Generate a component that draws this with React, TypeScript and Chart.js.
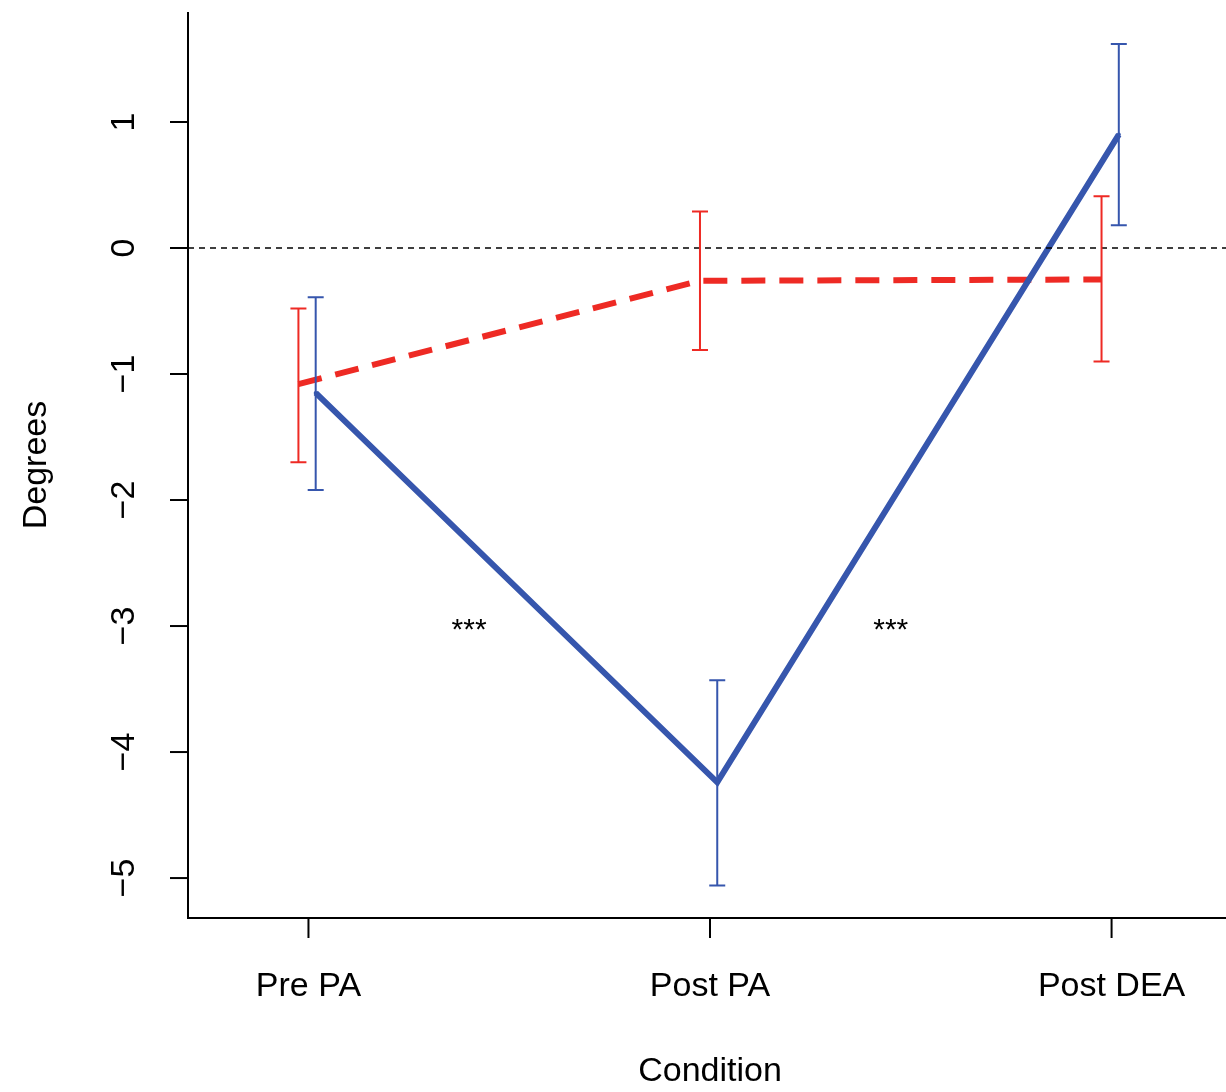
import { useEffect, useRef } from "react";
import Chart from "chart.js/auto";

const CATEGORIES = ["Pre PA", "Post PA", "Post DEA"];
const BLUE_MEAN = [-1.15, -4.24, 0.9];
const BLUE_HI = [-0.39, -3.43, 1.62];
const BLUE_LO = [-1.92, -5.06, 0.18];
const RED_MEAN = [-1.08, -0.26, -0.25];
const RED_HI = [-0.48, 0.29, 0.41];
const RED_LO = [-1.7, -0.81, -0.9];
const Y_TICKS = [1, 0, -1, -2, -3, -4, -5];
const STARS = [{ x: 0.4, y: -3.04 }, { x: 1.45, y: -3.04 }];

const BLUE = "#3656ad";
const RED = "#ee2a24";
const FONT = "'Liberation Sans', Arial, sans-serif";

export default function App() {
  const ref = useRef<HTMLCanvasElement>(null);

  useEffect(() => {
    document.body.style.margin = "0";
    document.body.style.overflow = "hidden";
    if (!ref.current) return;
    const blueOff = 0.018, redOff = -0.025;
    const overlay = {
      id: "overlay",
      afterDatasetsDraw(chart: any) {
        const { ctx, chartArea: a, scales } = chart;
        const xs = scales.x, ys = scales.y;
        ctx.save();
        // zero line
        ctx.strokeStyle = "#000"; ctx.lineWidth = 1.5; ctx.setLineDash([6, 5]);
        ctx.beginPath(); ctx.moveTo(a.left, ys.getPixelForValue(0)); ctx.lineTo(1226, ys.getPixelForValue(0)); ctx.stroke();
        ctx.setLineDash([]);
        // error bars
        const bars = (hi: number[], lo: number[], off: number, color: string) => {
          ctx.strokeStyle = color; ctx.lineWidth = 2;
          hi.forEach((h, i) => {
            const x = xs.getPixelForValue(i + off);
            const y1 = ys.getPixelForValue(h), y2 = ys.getPixelForValue(lo[i]);
            ctx.beginPath();
            ctx.moveTo(x, y1); ctx.lineTo(x, y2);
            ctx.moveTo(x - 8, y1); ctx.lineTo(x + 8, y1);
            ctx.moveTo(x - 8, y2); ctx.lineTo(x + 8, y2);
            ctx.stroke();
          });
        };
        bars(RED_HI, RED_LO, redOff, RED);
        bars(BLUE_HI, BLUE_LO, blueOff, BLUE);
        // axes
        ctx.strokeStyle = "#000"; ctx.lineWidth = 2;
        ctx.beginPath();
        ctx.moveTo(a.left, a.top); ctx.lineTo(a.left, a.bottom); ctx.lineTo(1226, a.bottom);
        ctx.stroke();
        ctx.fillStyle = "#000";
        ctx.font = `34px ${FONT}`;
        Y_TICKS.forEach((t) => {
          const y = ys.getPixelForValue(t);
          ctx.beginPath(); ctx.moveTo(a.left, y); ctx.lineTo(a.left - 18, y); ctx.stroke();
          ctx.save(); ctx.translate(125, y); ctx.rotate(-Math.PI / 2);
          ctx.textAlign = "center"; ctx.textBaseline = "middle";
          ctx.fillText(t < 0 ? "\u2212" + Math.abs(t) : String(t), 0, 0);
          ctx.restore();
        });
        CATEGORIES.forEach((c, i) => {
          const x = xs.getPixelForValue(i);
          ctx.beginPath(); ctx.moveTo(x, a.bottom); ctx.lineTo(x, a.bottom + 20); ctx.stroke();
          ctx.textAlign = "center"; ctx.textBaseline = "middle";
          ctx.fillText(c, x, 987);
        });
        ctx.fillText("Condition", xs.getPixelForValue(1), 1072);
        ctx.save(); ctx.translate(37, 465); ctx.rotate(-Math.PI / 2);
        ctx.fillText("Degrees", 0, 0); ctx.restore();
        ctx.font = `30px ${FONT}`;
        STARS.forEach((s) => ctx.fillText("***", xs.getPixelForValue(s.x), ys.getPixelForValue(s.y)));
        ctx.restore();
      },
    };
    const chart = new Chart(ref.current, {
      type: "line",
      data: {
        datasets: [
          {
            data: BLUE_MEAN.map((y, i) => ({ x: i + blueOff, y })),
            borderColor: BLUE, borderWidth: 6, pointRadius: 2, pointBackgroundColor: BLUE, pointBorderWidth: 0,
          },
          {
            data: RED_MEAN.map((y, i) => ({ x: i + redOff, y })),
            borderColor: RED, borderWidth: 6, borderDash: [24, 14], pointRadius: 0,
          },
        ],
      },
      options: {
        animation: false,
        responsive: false,
        layout: { padding: { top: 12, right: 0, left: 0, bottom: 0 } },
        plugins: { legend: { display: false }, tooltip: { enabled: false } },
        scales: {
          x: {
            type: "linear", min: -0.3, max: 2.275,
            grid: { display: false }, border: { display: false }, ticks: { display: false },
            afterFit: (s: any) => { s.height = 174; },
          },
          y: {
            min: -5.317, max: 1.873,
            grid: { display: false }, border: { display: false }, ticks: { display: false },
            afterFit: (s: any) => { s.width = 188; },
          },
        },
      },
      plugins: [overlay],
    });
    return () => chart.destroy();
  }, []);

  return <canvas ref={ref} width={1226} height={1092} style={{ display: "block", background: "#fff" }} />;
}
